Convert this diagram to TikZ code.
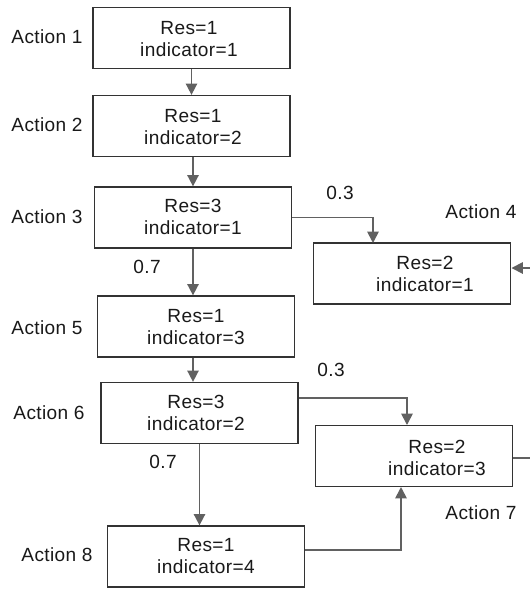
\documentclass[tikz,border=0pt]{standalone}
\usepackage{fontspec}
\setmainfont{Liberation Sans}[LetterSpace=2]
\usetikzlibrary{arrows.meta}
\begin{document}
\begin{tikzpicture}[x=0.75pt,y=-0.75pt,
  box/.style={draw=black!80,line width=1.2pt,minimum width=148pt,minimum height=45.5pt,inner sep=0pt},
  txt/.style={align=center,font=\fontsize{14.3}{16.5}\selectfont,text=black!90,inner sep=0pt},
  lbl/.style={font=\fontsize{14.3}{16}\selectfont,text=black!90,inner sep=0pt},
  arr/.style={draw=black!62,line width=1.3pt,-{Triangle[width=8.5pt,length=8.5pt]}},
  ln/.style={draw=black!62,line width=1.3pt}]
\fill[white] (0,0) rectangle (530,590);
\useasboundingbox (0,0) rectangle (530,590);
% boxes
\node[box] (b1) at (191.5,38) {};
\node[box] (b2) at (191.5,126) {};
\node[box] (b3) at (193,217.5) {};
\node[box] (b4) at (412,273.5) {};
\node[box] (b5) at (196,326.5) {};
\node[box] (b6) at (199.5,413) {};
\node[box] (b7) at (414,456) {};
\node[box] (b8) at (206,556.5) {};
% box texts
\node[txt] (t1) at (189,39) {Res=1\\indicator=1};
\node[txt] (t2) at (193,127) {Res=1\\indicator=2};
\node[txt] (t3) at (193,217) {Res=3\\indicator=1};
\node[txt] (t4) at (425,274) {Res=2\\indicator=1};
\node[txt] (t5) at (196,327) {Res=1\\indicator=3};
\node[txt] (t6) at (196,413) {Res=3\\indicator=2};
\node[txt] (t7) at (437,458) {Res=2\\indicator=3};
\node[txt] (t8) at (206,556) {Res=1\\indicator=4};
% action labels
\node[lbl] (a1) at (47,37) {Action 1};
\node[lbl] (a2) at (47,125) {Action 2};
\node[lbl] (a3) at (47,217) {Action 3};
\node[lbl] (a4) at (481,212) {Action 4};
\node[lbl] (a5) at (47,328) {Action 5};
\node[lbl] (a6) at (49,413) {Action 6};
\node[lbl] (a7) at (481,513) {Action 7};
\node[lbl] (a8) at (57,555) {Action 8};
% probabilities
\node[lbl] (p1) at (340,193) {0.3};
\node[lbl] (p2) at (147,267) {0.7};
\node[lbl] (p3) at (331,370) {0.3};
\node[lbl] (p4) at (163,462) {0.7};
% helper coordinates
\coordinate (k4) at (373,243);
\coordinate (s6) at (299,398);
\coordinate (k7) at (407,425);
\coordinate (s8) at (305,550);
\coordinate (e7) at (401,487);
\coordinate (r4) at (530,268);
\coordinate (r7) at (530,458);
% connectors
\draw[arr] (b1.south) -- (b1.south |- b2.north);
\draw[arr] (b3.north |- b2.south) -- (b3.north);
\draw[arr] (b3.south) -- (b3.south |- b5.north);
\draw[arr] (b3.east) -| (k4);
\draw[arr] (r4) -- (r4 -| b4.east);
\draw[arr] (b5.south -| b3.south) -- (b3.south |- b6.north);
\draw[arr] (s6) -| (k7);
\draw[arr] (b6.south) -- (b6.south |- b8.north);
\draw[arr] (s8) -| (e7);
\draw[ln] (b7.east |- r7) -- (r7);
\end{tikzpicture}
\end{document}
